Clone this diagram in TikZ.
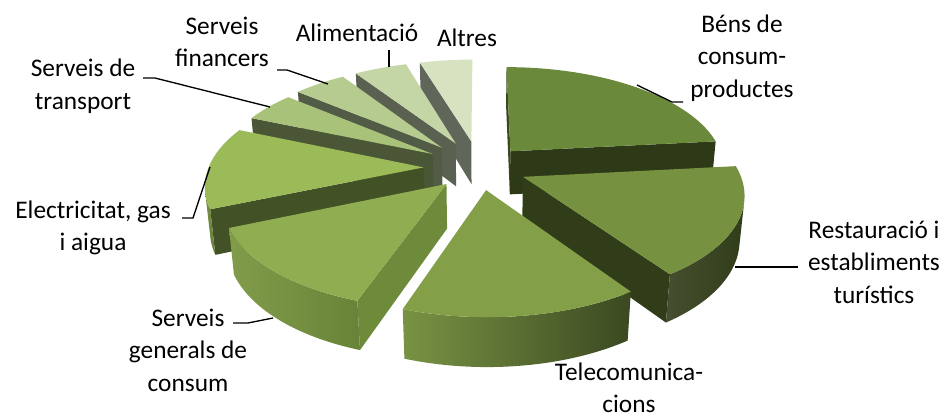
\documentclass[tikz,border=0pt]{standalone}
\usepackage{fontspec}
\setmainfont{Carlito}
\usetikzlibrary{positioning,calc}

\definecolor{bensTop}{HTML}{6B893B}
\definecolor{bensWall}{HTML}{2E3917}
\definecolor{bensSide}{HTML}{3A4720}
\definecolor{restTop}{HTML}{76913F}
\definecolor{restWall}{HTML}{313C19}
\definecolor{telTop}{HTML}{83A049}
\definecolor{servTop}{HTML}{8FAE52}
\definecolor{servWall}{HTML}{6E8A3B}
\definecolor{elecTop}{HTML}{9BBB59}
\definecolor{elecWall}{HTML}{435126}
\definecolor{tranTop}{HTML}{A8C27A}
\definecolor{tranWall}{HTML}{4B5636}
\definecolor{finTop}{HTML}{B5CB8F}
\definecolor{finWall}{HTML}{525B46}
\definecolor{alimTop}{HTML}{C5D6A6}
\definecolor{alimWall}{HTML}{5A6150}
\definecolor{altTop}{HTML}{D7E3C0}
\definecolor{altWall}{HTML}{60665A}

% slice apex offset
\newcommand{\setslice}[3]{%
  \pgfmathsetmacro{\su}{#3*cos((#1+#2)/2)}%
  \pgfmathsetmacro{\sv}{#3*sin((#1+#2)/2)}}
\newcommand{\thick}{0.235}
\newcommand{\topface}[3]{%
  \fill[#3] ({sx(\su,\sv,0)},{sy(\su,\sv,0)})
    -- plot[domain=#1:#2,samples=40] ({sx(\su+cos(\x),\sv+sin(\x),0)},{sy(\su+cos(\x),\sv+sin(\x),0)}) -- cycle;}
\newcommand{\radwall}[2]{%
  \fill[#2] ({sx(\su,\sv,0)},{sy(\su,\sv,0)})
    -- ({sx(\su+cos(#1),\sv+sin(#1),0)},{sy(\su+cos(#1),\sv+sin(#1),0)})
    -- ({sx(\su+cos(#1),\sv+sin(#1),-\thick)},{sy(\su+cos(#1),\sv+sin(#1),-\thick)})
    -- ({sx(\su,\sv,-\thick)},{sy(\su,\sv,-\thick)}) -- cycle;}
\newcommand{\rimwall}[3]{%
  \shade[#3] plot[domain=#1:#2,samples=40] ({sx(\su+cos(\x),\sv+sin(\x),0)},{sy(\su+cos(\x),\sv+sin(\x),0)})
    -- plot[domain=#2:#1,samples=40] ({sx(\su+cos(\x),\sv+sin(\x),-\thick)},{sy(\su+cos(\x),\sv+sin(\x),-\thick)}) -- cycle;}

\begin{document}
\begin{tikzpicture}[x=0.75pt, y=-0.75pt,
  declare function={
    dep(\pu,\pv,\pw)=6+0.8829*(\pv)-0.4695*(\pw);
    sx(\pu,\pv,\pw)=479.5+1290*(\pu)/dep(\pu,\pv,\pw);
    sy(\pu,\pv,\pw)=167.4-1290*(0.4695*(\pv)+0.8829*(\pw))/dep(\pu,\pv,\pw);
  }]
\tikzstyle{lbl}=[font=\fontsize{19}{24.4}\selectfont, align=center, inner sep=0pt, text=black]
\tikzstyle{leader}=[draw=black, line width=1pt]
\fill[white] (0,0) rectangle (949,418);
\useasboundingbox (0,0) rectangle (949,418);

% Altres
\setslice{90}{106.75}{0.27}
\radwall{106.75}{altWall}
\topface{90}{106.75}{altTop}
% Alimentacio
\setslice{106.75}{123.5}{0.27}
\radwall{123.5}{alimWall}
\topface{106.75}{123.5}{alimTop}
% Serveis financers
\setslice{123.5}{140.25}{0.27}
\radwall{140.25}{finWall}
\topface{123.5}{140.25}{finTop}
% Bens de consum
\setslice{6}{90}{0.22}
\radwall{90}{bensSide}
\radwall{6}{bensWall}
\topface{6}{90}{bensTop}
% Serveis de transport
\setslice{140.25}{157}{0.26}
\radwall{157}{tranWall}
\topface{140.25}{157}{tranTop}
% Electricitat
\setslice{157}{203}{0.26}
\radwall{203}{elecWall}
\rimwall{193.6}{203}{left color=elecWall!40!elecTop, right color=elecWall!60!elecTop}
\topface{157}{203}{elecTop}
% Restauracio
\setslice{-55.5}{6}{0.22}
\radwall{-55.5}{restWall}
\rimwall{-55.5}{-13.3}{left color=restWall!90!white, right color=restWall}
\topface{-55.5}{6}{restTop}
% Serveis generals
\setslice{-157}{-109}{0.22}
\radwall{-109}{servWall}
\rimwall{-157}{-109}{left color=servTop!90!black, right color=servWall!95!black}
\topface{-157}{-109}{servTop}
% Telecomunicacions
\setslice{-109}{-55.5}{0.22}
\rimwall{-109}{-55.5}{left color=telTop!92!black, right color=telTop!45!black}
\topface{-109}{-55.5}{telTop}

% labels
\node[lbl] (bens) at (742,58) {Béns de\\consum-\\productes};
\node[lbl] (rest) at (874,262) {Restauració i\\establiments\\turístics};
\node[lbl] (tel) at (629,388) {Telecomunica-\\cions};
\node[lbl] (serv) at (188,350) {Serveis\\generals de\\consum};
\node[lbl] (elec) at (93,228) {Electricitat, gas\\i aigua};
\node[lbl] (tran) at (83,86) {Serveis de\\transport};
\node[lbl] (fin) at (222,42) {Serveis\\financers};
\node[lbl] (alim) at (357,33) {Alimentació};
\node[lbl] (alt) at (467,38) {Altres};

% leader lines
\coordinate (bensA) at (637,85);
\coordinate (bensB) at (672,102);
\coordinate (bensC) at (683,102);
\coordinate (restA) at (735,267);
\coordinate (restB) at (798,267);
\coordinate (servA) at (273,318);
\coordinate (servB) at (248,323);
\coordinate (servC) at (233,323);
\coordinate (elecA) at (210,167);
\coordinate (elecB) at (193,218);
\coordinate (elecC) at (182,218);
\coordinate (tranA) at (270,107);
\coordinate (tranB) at (155,78);
\coordinate (tranC) at (143,78);
\coordinate (finA) at (328,84);
\coordinate (finB) at (287,70);
\coordinate (finC) at (277,70);
\coordinate (alimA) at (389,67);
\coordinate (alimB) at (389,50);
\draw[leader] (bensA) -- (bensB) -- (bensC);
\draw[leader] (restA) -- (restB);
\draw[leader] (servA) -- (servB) -- (servC);
\draw[leader] (elecA) -- (elecB) -- (elecC);
\draw[leader] (tranA) -- (tranB) -- (tranC);
\draw[leader] (finA) -- (finB) -- (finC);
\draw[leader] (alimA) -- (alimB);
\end{tikzpicture}
\end{document}
